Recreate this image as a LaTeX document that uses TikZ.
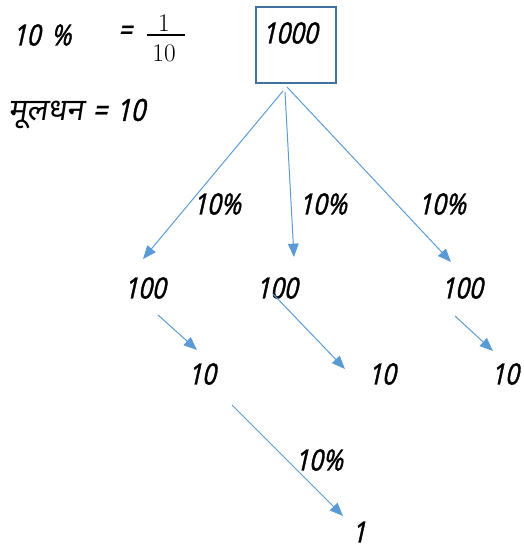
\documentclass[tikz,border=0pt]{standalone}
\usepackage{fontspec}
\usetikzlibrary{arrows.meta}
\newfontfamily\hand[FakeSlant=0.22,FakeStretch=0.82,FakeBold=1.2]{Noto Sans}
\newfontfamily\deva[Script=Devanagari,FakeSlant=0.15]{Noto Sans}
\definecolor{arrowblue}{HTML}{5B9BD5}
\definecolor{boxblue}{HTML}{41719C}
\tikzset{
  txt/.style={inner sep=0pt, font=\hand\fontsize{22}{26}\selectfont},
  frac/.style={inner sep=0pt, font=\fontsize{19}{22}\selectfont},
  arr/.style={draw=arrowblue, line width=0.75pt, -{Triangle[length=10pt,width=8pt]}}
}
\begin{document}
\begin{tikzpicture}[x=0.75pt,y=-0.75pt]
\useasboundingbox (0,0) rectangle (524,554);
% top-left formula
\node[txt] (pct) at (42,35) {10\hspace{8pt}\%};
\node[txt] (eq) at (125,33) {=};
\node[frac] (num) at (164,23) {1};
\node[frac] (den) at (164,53) {10};
\draw[line width=1.6pt] (147,35) -- (185,35);
\node[inner sep=0pt, anchor=west, font=\fontsize{23}{27}\selectfont] (mul) at (8,114) {\deva मूलधन\hspace{7pt}\hand =\hspace{7pt}10};
% box
\node[draw=boxblue, line width=1.5pt, minimum width=60pt, minimum height=57pt, inner sep=0pt] (box) at (296,45) {};
\node[txt] (top) at (290,33) {1000};
% level 1
\coordinate (s1) at (283,91);
\coordinate (s2) at (285,92);
\coordinate (s3) at (287,87);
\coordinate (t1) at (143,259);
\coordinate (t2) at (294,257);
\coordinate (t3) at (451,262);
\draw[arr] (s1) -- (t1);
\draw[arr] (s2) -- (t2);
\draw[arr] (s3) -- (t3);
\node[txt] (p1) at (217,204) {10\%};
\node[txt] (p2) at (323,204) {10\%};
\node[txt] (p3) at (442,204) {10\%};
\node[txt] (h1) at (145,288) {100};
\node[txt] (h2) at (277,288) {100};
\node[txt] (h3) at (462,288) {100};
% level 2
\coordinate (a1) at (158,315);
\coordinate (b1) at (197,350);
\coordinate (a2) at (273,294);
\coordinate (b2) at (345,369);
\coordinate (a3) at (455,316);
\coordinate (b3) at (493,351);
\draw[arr] (a1) -- (b1);
\draw[arr] (a2) -- (b2);
\draw[arr] (a3) -- (b3);
\node[txt] (d1) at (202,374) {10};
\node[txt] (d2) at (382,374) {10};
\node[txt] (d3) at (505,374) {10};
% level 3
\coordinate (a4) at (232,405);
\coordinate (b4) at (343,516);
\draw[arr] (a4) -- (b4);
\node[txt] (p4) at (319,460) {10\%};
\node[txt] (one) at (359,532) {1};
\end{tikzpicture}
\end{document}
